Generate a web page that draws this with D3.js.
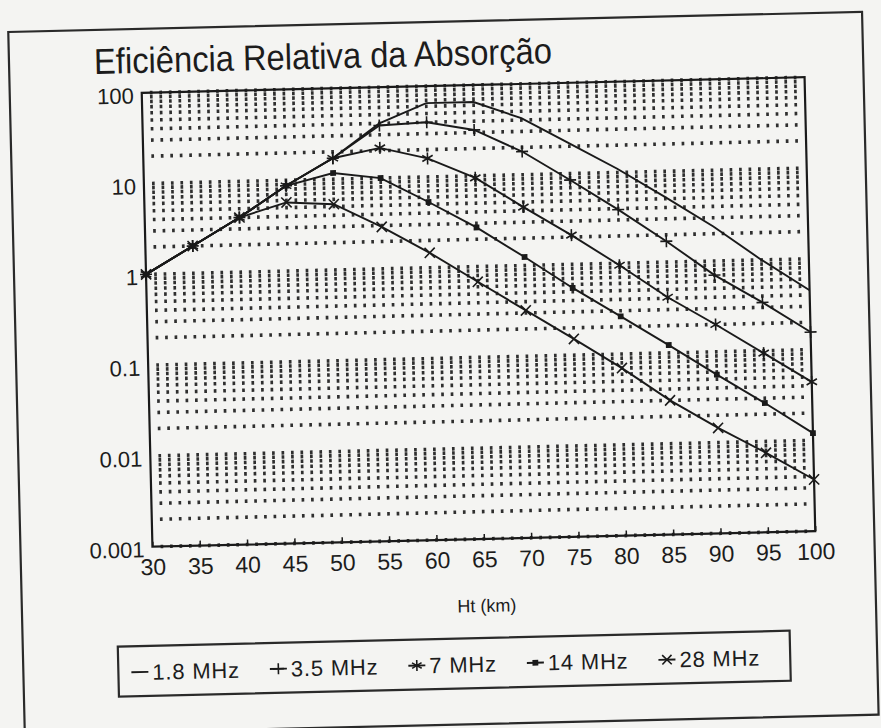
<!DOCTYPE html>
<html>
<head>
<meta charset="utf-8">
<script src="https://cdn.jsdelivr.net/npm/d3@7/dist/d3.min.js"></script>
<style>
body { margin: 0; background: #f4f4f2; }
svg text { font-family: "Liberation Sans", Arial, sans-serif; fill: #1c1c1c; }
</style>
</head>
<body>
<script>
// Values (relative absorption vs. height).
var heights = [30, 35, 40, 45, 50, 55, 60, 65, 70, 75, 80, 85, 90, 95, 100];
var mhz1_8 = [1, 2, 4, 8.7, 17, 40, 65, 65, 42, 21.5, 11, 5.2, 2.4, 1.0, 0.45];
var mhz3_5 = [1, 2, 4, 8.7, 17, 38, 40, 32, 18, 8.5, 3.9, 1.7, 0.70, 0.34, 0.156];
var mhz7 = [1, 2, 4, 8.7, 17, 21.5, 16, 9.5, 4.4, 2.1, 0.95, 0.41, 0.20, 0.094, 0.044];
var mhz14 = [1, 2, 4, 8.7, 11.7, 10, 5.3, 2.7, 1.24, 0.55, 0.26, 0.122, 0.056, 0.0265, 0.012];
var mhz28 = [1, 2, 4, 5.7, 5.3, 2.9, 1.46, 0.68, 0.32, 0.151, 0.070, 0.030, 0.0145, 0.0075, 0.0037];
var seriesNames = ["1.8 MHz", "3.5 MHz", "7 MHz", "14 MHz", "28 MHz"];
var seriesMarks = ["none", "plus", "star", "square", "cross"];
var xTicks = [30, 35, 40, 45, 50, 55, 60, 65, 70, 75, 80, 85, 90, 95, 100];
var yTicks = [100, 10, 1, 0.1, 0.01, 0.001];
var yTickLabels = ["100", "10", "1", "0.1", "0.01", "0.001"];

// Layout (the scan is tilted a little, so everything is drawn straight and rotated).
var width = 881,
  height = 728,
  plotLeft = 147, plotRight = 810, plotTop = 85, plotBottom = 539,
  tilt = -1.35, cx = 478, cy = 312,
  ink = "#1a1a1a",
  gridInk = "#2f2f2f";

var svg = d3.select("body").append("svg")
    .attr("width", width)
    .attr("height", height),
  g = svg.append("g")
    .attr("transform", "rotate(" + tilt + "," + cx + "," + cy + ")");

var x = d3.scaleLinear().domain([30, 100]).range([plotLeft, plotRight]),
  y = d3.scaleLog().domain([0.001, 100]).range([plotBottom, plotTop]);

var series = seriesNames.map(function(name, i) {
  var vals = [mhz1_8, mhz3_5, mhz7, mhz14, mhz28][i];
  return {
    name: name,
    mark: seriesMarks[i],
    points: heights.map(function(h, j) { return {h: h, v: vals[j]}; })
  };
});

// Outer frame around the whole figure.
g.append("rect")
    .attr("x", 15).attr("y", 21)
    .attr("width", 854).attr("height", 703)
    .attr("fill", "none")
    .attr("stroke", "#2a2a2a")
    .attr("stroke-width", 2.2);

// Title.
g.append("text")
    .attr("x", 100).attr("y", 65)
    .attr("textLength", 458)
    .attr("lengthAdjust", "spacingAndGlyphs")
    .style("font-size", "36px")
    .text("Eficiência Relativa da Absorção");

// Dotted grid: one row per log tick, one dot per km.
var step = x(31) - x(30), dotW = 2.7;
g.append("g").selectAll("line")
    .data(y.ticks())
  .enter().append("line")
    .attr("x1", x(31) - dotW / 2)
    .attr("x2", x(99) + dotW / 2)
    .attr("y1", function(d) { return y(d); })
    .attr("y2", function(d) { return y(d); })
    .attr("stroke", gridInk)
    .attr("stroke-width", 3.6)
    .attr("stroke-dasharray", dotW + " " + (step - dotW));

// Axes.
var xAxis = d3.axisBottom(x)
    .tickValues(xTicks)
    .tickFormat(d3.format("d"))
    .tickSizeInner(-5)
    .tickSizeOuter(0)
    .tickPadding(12);
var gx = g.append("g")
    .attr("transform", "translate(0," + plotBottom + ")")
    .call(xAxis);
gx.select(".domain").remove();
gx.selectAll("line").attr("stroke", ink).attr("stroke-width", 1.5);
gx.selectAll("text")
    .style("font-size", "23px")
    .style("font-family", '"Liberation Sans", Arial, sans-serif')
    .attr("fill", ink);

var yAxis = d3.axisLeft(y)
    .tickValues(yTicks)
    .tickFormat(function(d, i) { return yTickLabels[i]; })
    .tickSize(0)
    .tickPadding(8);
var gy = g.append("g")
    .attr("transform", "translate(" + plotLeft + ",0)")
    .call(yAxis);
gy.select(".domain").remove();
gy.selectAll("text")
    .attr("dy", "0.45em")
    .style("font-size", "22px")
    .style("font-family", '"Liberation Sans", Arial, sans-serif')
    .attr("fill", ink);

// Plot frame.
g.append("rect")
    .attr("x", plotLeft).attr("y", plotTop)
    .attr("width", plotRight - plotLeft).attr("height", plotBottom - plotTop)
    .attr("fill", "none")
    .attr("stroke", ink)
    .attr("stroke-width", 2.2);

// Axis title.
g.append("text")
    .attr("x", 480).attr("y", 612)
    .attr("text-anchor", "middle")
    .style("font-size", "18px")
    .text("Ht (km)");

// Marker shapes.
function markPath(kind, s) {
  if (kind === "plus") return "M" + -s + ",0H" + s + "M0," + -s + "V" + s;
  if (kind === "star") {
    var a = s * 0.87, b = s * 0.5;
    return "M0," + -s + "V" + s + "M" + -a + "," + -b + "L" + a + "," + b +
      "M" + -a + "," + b + "L" + a + "," + -b;
  }
  if (kind === "cross") {
    var c = s * 0.85;
    return "M" + -c + "," + -c + "L" + c + "," + c + "M" + -c + "," + c + "L" + c + "," + -c;
  }
  return null;
}

function drawMark(sel, kind, s) {
  if (kind === "none") return;
  if (kind === "square") {
    sel.append("rect")
        .attr("x", -2.9).attr("y", -2.9)
        .attr("width", 5.8).attr("height", 5.8)
        .attr("fill", ink);
    return;
  }
  sel.append("path")
      .attr("d", markPath(kind, s))
      .attr("fill", "none")
      .attr("stroke", ink)
      .attr("stroke-width", 1.6);
}

// Series lines and markers.
var line = d3.line()
    .x(function(d) { return x(d.h); })
    .y(function(d) { return y(d.v); });

var sg = g.append("g").selectAll("g")
    .data(series)
  .enter().append("g");

sg.append("path")
    .attr("d", function(d) { return line(d.points); })
    .attr("fill", "none")
    .attr("stroke", ink)
    .attr("stroke-width", 1.9);

sg.each(function(s) {
  d3.select(this).selectAll("g.m")
      .data(s.points)
    .enter().append("g")
      .attr("class", "m")
      .attr("transform", function(d) { return "translate(" + x(d.h) + "," + y(d.v) + ")"; })
      .each(function() { drawMark(d3.select(this), s.mark, 6); });
});

// Legend box.
var legX = 110, legY = 638, legW = 672, legH = 50;
g.append("rect")
    .attr("x", legX).attr("y", legY)
    .attr("width", legW).attr("height", legH)
    .attr("fill", "none")
    .attr("stroke", "#2a2a2a")
    .attr("stroke-width", 2.2);

var legend = g.append("g")
    .attr("transform", "translate(" + (legX + 13) + "," + (legY + legH / 2 + 1) + ")");
var cursor = 0;
series.forEach(function(s) {
  var item = legend.append("g").attr("transform", "translate(" + cursor + ",0)");
  item.append("line")
      .attr("x1", 0).attr("x2", 17)
      .attr("stroke", ink).attr("stroke-width", 1.9);
  drawMark(item.append("g").attr("transform", "translate(8.5,0)"), s.mark, 5.5);
  var t = item.append("text")
      .attr("x", 21).attr("dy", "0.36em")
      .style("font-size", "22px")
      .style("letter-spacing", "0.8px")
      .text(s.name);
  cursor += 21 + t.node().getComputedTextLength() + 30;
});
</script>
</body>
</html>
